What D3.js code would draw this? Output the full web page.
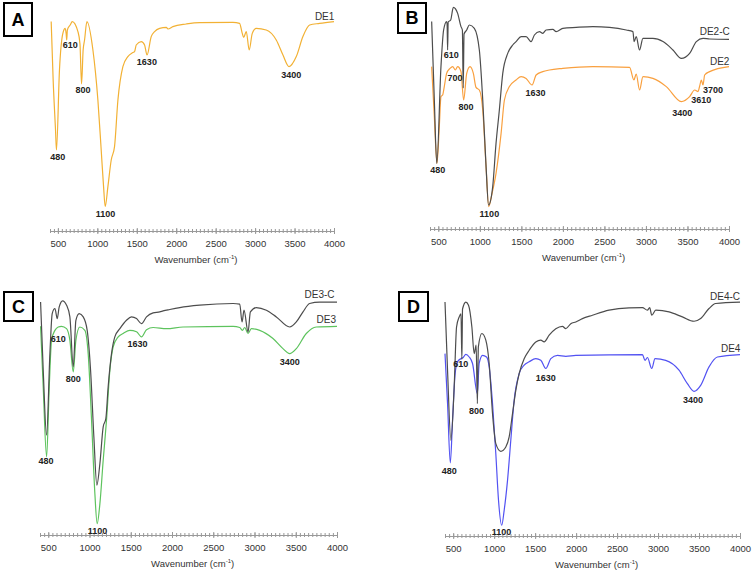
<!DOCTYPE html>
<html>
<head>
<meta charset="utf-8">
<script src="https://cdn.jsdelivr.net/npm/d3@7"></script>
<style>
body { margin: 0; background: #fff; }
svg { display: block; font-family: "Liberation Sans", Arial, sans-serif; }
</style>
</head>
<body>
<script>
// FTIR spectra, [wavenumber, transmittance (a.u.)]
var de1 = [[415,99.2],[440,70],[470,45],[482,35],[520,75],[563,93.3],[593,95.8],[605,93],[612,90],[620,95],[656,97.5],[682,99.2],
  [754,94.2],[780,88],[800,68],[820,85],[838,90],[868,99.2],[944,85],[1007,60],[1049,35],[1079,16.7],[1100,6.7],[1134,16.7],
  [1176,30],[1218,36.7],[1261,60],[1324,76.7],[1387,81.7],[1451,83.7],[1472,84.2],[1493,87.5],[1557,89.2],[1599,87.5],
  [1630,82.5],[1683,91.7],[1726,94.2],[1790,95.8],[1874,96.3],[1895,95.5],[1958,96.7],[2127,98],[2296,98.7],[2719,98.8],
  [2803,98.3],[2837,93.3],[2855,91.3],[2888,94.2],[2925,85],[2964,93.3],[3014,95.8],[3141,95],[3268,90],[3353,82.5],
  [3430,76.7],[3522,81.7],[3606,91.7],[3691,97.5],[3817,98.3],[4000,99.2]];

var de2c = [[420,94.2],[452,55],[482,23.3],[532,71.7],[564,90],[600,94.2],[606,93],[612,80],[619,94],[649,95],[681,101.3],
  [733,98.3],[773,91.7],[790,90],[800,61],[810,88],[842,90],[874,92.5],[934,90.8],[994,80],[1035,55],[1075,21.7],[1105,2.5],
  [1155,11.7],[1195,33.3],[1235,50],[1276,68.3],[1336,78.3],[1396,82.5],[1436,84.2],[1497,86.7],[1557,86.7],[1617,84.2],
  [1657,87.5],[1718,89.2],[1758,88.3],[1798,90],[1879,90.3],[1919,89.2],[1999,90.8],[2160,91.3],[2361,91.7],[2562,91.3],
  [2763,90],[2843,89.2],[2858,84.2],[2883,86.7],[2923,80],[2964,85.8],[3084,85.8],[3205,84.2],[3325,80],[3426,75.8],
  [3526,78.3],[3607,84.2],[3687,85.8],[3767,85.5],[4000,85.3]];

var de2 = [[420,71.7],[452,46.7],[484,23.3],[512,41.7],[532,56.7],[552,57.5],[572,61.7],[600,68.3],[641,70.8],[673,71.7],
  [705,70],[733,71.7],[773,69.2],[805,55],[842,68.3],[882,71.7],[922,68.3],[954,61.3],[994,60],[1035,50],[1075,21.7],
  [1107,1.7],[1147,8.3],[1195,18.3],[1256,38.3],[1296,55],[1356,61.7],[1436,65],[1497,66.7],[1557,65.8],[1629,62.5],
  [1678,67.5],[1758,69.2],[1838,70],[1999,70.8],[2361,71.7],[2803,71.3],[2855,65],[2883,68],[2923,60],[2964,66.7],
  [3084,65.8],[3245,61.7],[3426,54.2],[3526,56.7],[3587,60],[3627,59.2],[3647,62],[3667,65],[3687,62.5],[3707,67.5],
  [3767,69.2],[4000,71.7]];

var de3c = [[407,97.9],[439,69.5],[480,42.4],[520,76.4],[548,93.1],[581,95.2],[609,91],[633,95.9],[674,98.4],[722,96.6],
  [762,91.7],[803,70.9],[835,90.3],[875,93.1],[924,91.7],[972,86.1],[1013,69.5],[1053,41.7],[1089,21.6],[1126,30.6],
  [1166,45.9],[1198,49.3],[1226,62.5],[1267,76.4],[1307,83.4],[1368,86.8],[1448,90.3],[1509,91.7],[1570,91],[1630,88.9],
  [1691,91.7],[1771,93.4],[1852,93.8],[1892,94.2],[1973,94.8],[2094,95.6],[2336,96.6],[2740,97.3],[2821,97],[2849,89.6],
  [2873,94.5],[2922,85.4],[2950,93.8],[3022,95.6],[3144,94.5],[3265,91.7],[3426,87.5],[3507,89.6],[3588,93.8],
  [3668,97.3],[3789,97.9],[4000,97.9]];

var de3 = [[407,87.8],[439,62.5],[480,33.4],[512,62.5],[540,82],[581,86.1],[621,87.5],[661,87.8],[722,86.8],[762,82],
  [803,68.8],[835,82],[883,87.5],[944,86.1],[984,76.4],[1025,48.6],[1065,18.1],[1093,5.6],[1126,13.9],[1166,32],
  [1206,48.6],[1247,69.5],[1287,79.2],[1348,83.4],[1408,84.8],[1489,86.1],[1570,85.5],[1630,83.4],[1691,86.4],
  [1771,87.3],[1933,86.8],[2135,87.5],[2740,87.8],[2821,87.3],[2853,86.1],[2881,87.3],[2922,84.8],[2962,86.8],
  [3063,86.1],[3224,82.7],[3345,78.5],[3426,76.4],[3507,78.5],[3628,84.8],[3749,87.5],[4000,87.8]];

var de4c = [[400,97.9],[431,69.5],[472,40.3],[512,62.5],[541,87.5],[573,91.7],[595,93],[606,74],[614,95],[654,97.9],
  [687,96.6],[728,87.5],[756,76.4],[780,80],[795,55.6],[807,79.2],[850,84.8],[898,82],[939,72.3],[980,51.4],[1020,38.9],
  [1081,35.7],[1142,37.5],[1183,41.7],[1224,51.4],[1264,61.1],[1305,68.1],[1366,74.3],[1427,77.8],[1508,81.3],[1569,82],
  [1610,81.3],[1671,84.1],[1752,86.8],[1833,87.8],[1874,86.8],[1935,88.9],[1996,89.6],[2077,91],[2199,92.4],[2402,94.5],
  [2646,95.5],[2809,95.6],[2870,94.5],[2898,95.6],[2923,92.4],[2972,94.5],[3134,93.8],[3297,91.7],[3439,89.9],[3520,91],
  [3622,95.2],[3703,97.3],[4000,97.9]];

var de4 = [[400,76.4],[431,55.6],[465,30.9],[492,48.6],[524,68.1],[553,73],[593,74.3],[622,74.8],[654,76.1],[695,75],
  [736,72.3],[795,59.8],[817,72.3],[858,75.7],[907,75],[939,70.9],[980,55.6],[1020,34.8],[1053,15.3],[1092,4.9],
  [1122,11.1],[1163,23.6],[1203,40.3],[1244,57],[1305,68.1],[1366,71.6],[1427,73],[1508,74.3],[1569,73.6],[1630,70.2],
  [1691,74.3],[1772,75.7],[1874,75.3],[1996,75.7],[2809,76],[2841,73.6],[2870,74.8],[2923,70.2],[2963,74.3],[3093,73.6],
  [3256,69.5],[3358,63.9],[3439,60.7],[3520,63.2],[3622,70.9],[3724,75],[4000,76]];

// peak annotations [text, wavenumber, transmittance]
var peaksA = [["480",500,31.7],["610",656,87.8],["800",817,65],["1100",1104,3.3],["1630",1628,79.2],["3400",3458,72.5]];
var peaksB = [["610",657,77.5],["700",701,66.3],["800",834,51.7],["480",492,20.3],["1100",1115,-1.7],["1630",1670,58.8],
  ["3400",3438,48.7],["3610",3667,55],["3700",3808,60]];
var peaksC = [["610",621,82.7],["800",803,65.7],["480",472,31.7],["1100",1097,2.5],["1630",1582,80.3],["3400",3426,72.9]];
var peaksD = [["610",593,72],["800",785,52.4],["480",451,27.5],["1100",1089,2.1],["1630",1630,66.4],["3400",3427,57]];

// series names [text, wavenumber, transmittance]
var namesA = [["DE1",3881,102]];
var namesB = [["DE2-C",3828,89.5],["DE2",3888,74.2]];
var namesC = [["DE3-C",3789,101.1],["DE3",3870,90.7]];
var namesD = [["DE4-C",3817,100.3],["DE4",3886,78.5]];

var majorTicks = [500,1000,1500,2000,2500,3000,3500,4000];
var xDomain = [400, 4000];

var gray = "#4d4d4d";

var panels = [
  {letter:"A", box:[4,3,28,33], x:[50,334], y:[220,20], axisY:231,
   series:[{data:de1, color:"#F2B134"}], peaks:peaksA, names:namesA},
  {letter:"B", box:[398,3,28,30], x:[430,729], y:[210,10], axisY:229,
   series:[{data:de2, color:"#F9A03F"},{data:de2c, color:gray}], peaks:peaksB, names:namesB},
  {letter:"C", box:[4,292,29,29], x:[40,337], y:[537,297], axisY:535,
   series:[{data:de3, color:"#5DC35D"},{data:de3c, color:gray}], peaks:peaksC, names:namesC},
  {letter:"D", box:[399,292,29,29], x:[445,740], y:[537,297], axisY:536,
   series:[{data:de4, color:"#5252F2"},{data:de4c, color:gray}], peaks:peaksD, names:namesD}
];

var svg = d3.select("body").append("svg")
    .attr("width", 752)
    .attr("height", 574);

svg.append("rect").attr("width", 752).attr("height", 574).attr("fill", "#fff");

panels.forEach(function(p) {
    var xScale = d3.scaleLinear().domain(xDomain).range(p.x);
    var yScale = d3.scaleLinear().domain([0, 100]).range(p.y);
    var g = svg.append("g");

    // minor ticks every 50
    var minor = d3.axisBottom(xScale)
        .tickValues(d3.range(400, 4001, 50))
        .tickSize(2)
        .tickSizeOuter(0)
        .tickFormat("");
    var minorG = g.append("g")
        .attr("transform", "translate(0," + p.axisY + ")")
        .call(minor);
    minorG.selectAll(".tick line").attr("y1", -2).attr("stroke", "#999");
    minorG.select(".domain").attr("stroke", "#999");

    // major ticks + labels
    var major = d3.axisBottom(xScale)
        .tickValues(majorTicks)
        .tickSize(3)
        .tickSizeOuter(0)
        .tickPadding(6)
        .tickFormat(d3.format("d"));
    var majorG = g.append("g")
        .attr("transform", "translate(0," + p.axisY + ")")
        .call(major);
    majorG.select(".domain").remove();
    majorG.selectAll(".tick line").attr("y1", -3).attr("stroke", "#999");
    majorG.selectAll(".tick text")
        .style("font-size", "9.5px")
        .attr("fill", "#333");

    // axis title
    var title = g.append("text")
        .attr("x", (xScale(500) + xScale(4000)) / 2)
        .attr("y", p.axisY + 32)
        .attr("text-anchor", "middle")
        .style("font-size", "9.5px")
        .attr("fill", "#333");
    title.append("tspan").text("Wavenumber (cm");
    title.append("tspan").text("-1").style("font-size", "6px").attr("dy", "-4");
    title.append("tspan").text(")").attr("dy", "4");

    // spectra
    var line = d3.line()
        .x(function(d) { return xScale(d[0]); })
        .y(function(d) { return yScale(d[1]); })
        .curve(d3.curveMonotoneX);

    p.series.forEach(function(s) {
        g.append("path")
            .datum(s.data)
            .attr("d", line)
            .attr("fill", "none")
            .attr("stroke", s.color)
            .attr("stroke-width", 1.2)
            .attr("stroke-linejoin", "round");
    });

    // peak labels
    g.selectAll(".peak")
        .data(p.peaks)
        .enter()
        .append("text")
        .attr("class", "peak")
        .attr("x", function(d) { return xScale(d[1]); })
        .attr("y", function(d) { return yScale(d[2]); })
        .attr("dy", "0.35em")
        .attr("text-anchor", "middle")
        .style("font-size", "9px")
        .style("font-weight", "bold")
        .attr("fill", "#222")
        .text(function(d) { return d[0]; });

    // series names
    g.selectAll(".name")
        .data(p.names)
        .enter()
        .append("text")
        .attr("class", "name")
        .attr("x", function(d) { return xScale(d[1]); })
        .attr("y", function(d) { return yScale(d[2]); })
        .attr("dy", "0.35em")
        .attr("text-anchor", "middle")
        .style("font-size", "10px")
        .attr("fill", "#333")
        .text(function(d) { return d[0]; });

    // panel letter box
    g.append("rect")
        .attr("x", p.box[0])
        .attr("y", p.box[1])
        .attr("width", p.box[2])
        .attr("height", p.box[3])
        .attr("fill", "#fff")
        .attr("stroke", "#000")
        .attr("stroke-width", 2);
    g.append("text")
        .attr("x", p.box[0] + p.box[2] / 2)
        .attr("y", p.box[1] + p.box[3] / 2)
        .attr("dy", "0.36em")
        .attr("text-anchor", "middle")
        .style("font-size", "18px")
        .style("font-weight", "bold")
        .text(p.letter);
});
</script>
</body>
</html>
